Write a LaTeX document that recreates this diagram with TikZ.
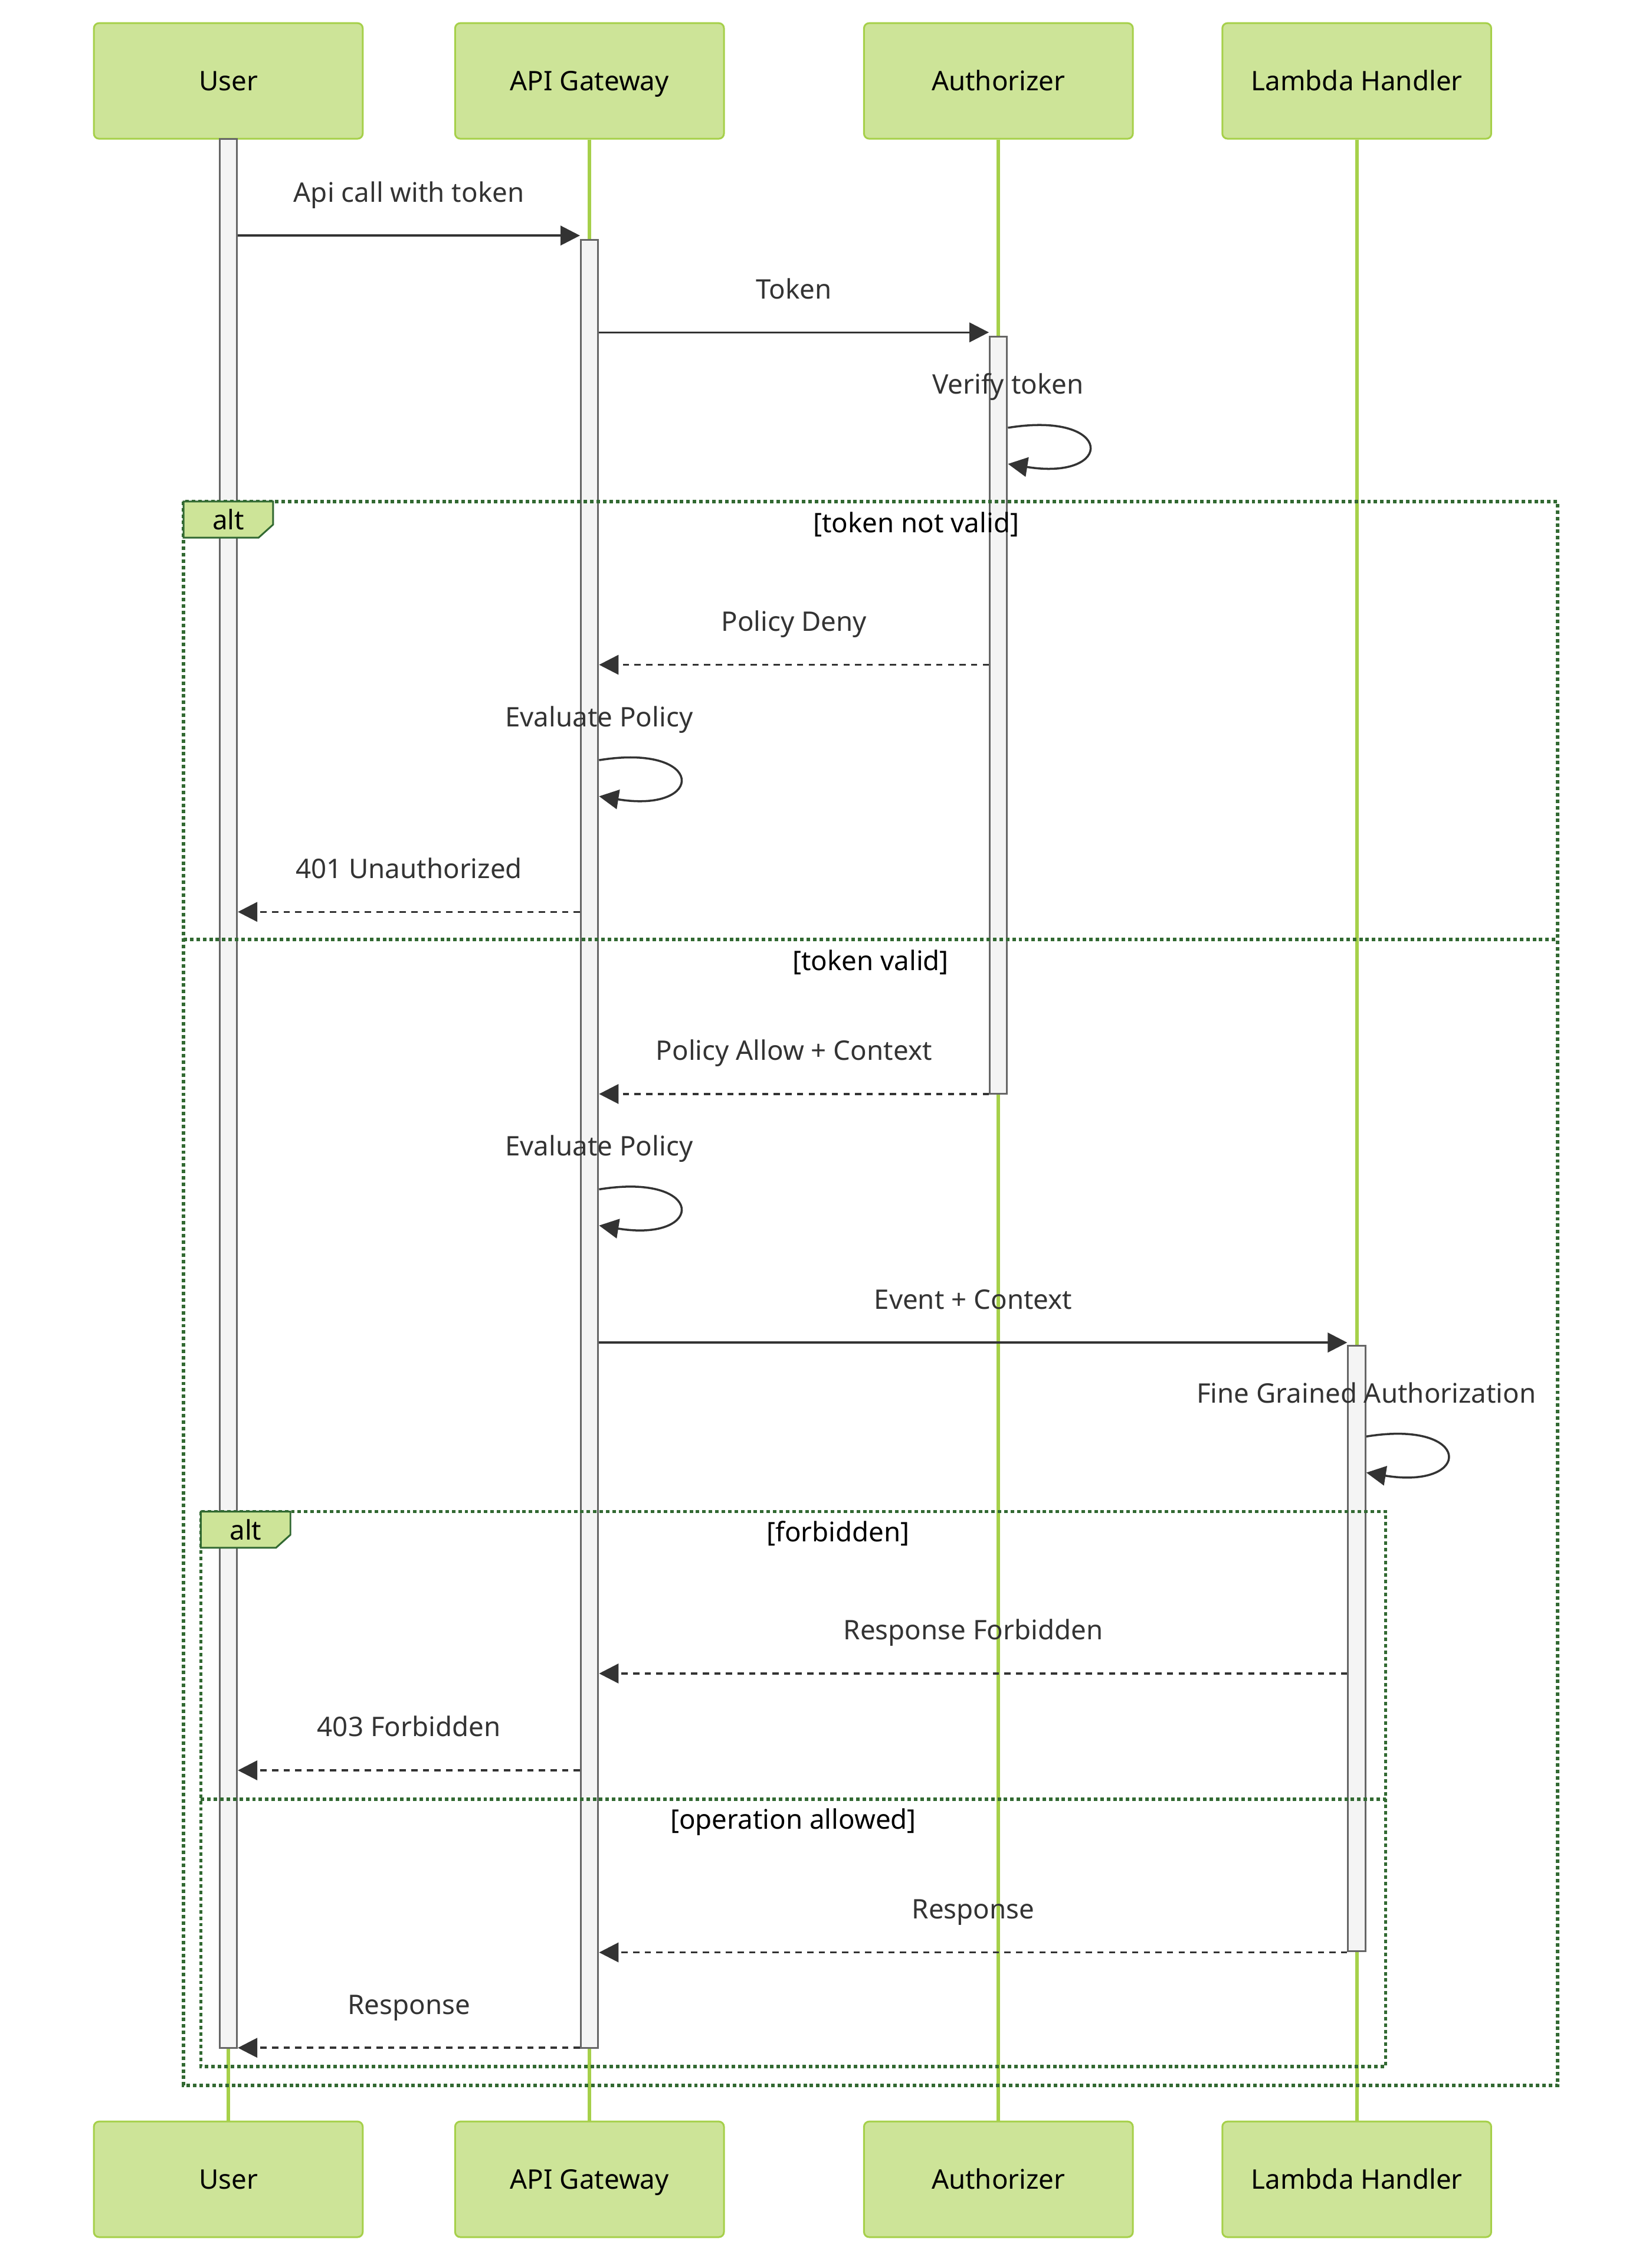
\documentclass[tikz,border=0pt]{standalone}
\usepackage{fontspec}
\setmainfont{Noto Sans}
\usetikzlibrary{arrows.meta,fit}
\definecolor{actfill}{HTML}{CDE498}
\definecolor{actline}{HTML}{A6D04A}
\definecolor{altline}{HTML}{326932}
\definecolor{barfill}{HTML}{F4F4F4}
\definecolor{barline}{HTML}{666666}
\definecolor{msgcol}{HTML}{333333}
\tikzset{
	txt/.style={font=\fontsize{13pt}{15pt}\selectfont,text height=0.93em,text depth=0pt},
	actor/.style={txt,draw=actline,line width=0.85pt,fill=actfill,rounded corners=2.5pt,
		minimum width=4.56cm,minimum height=1.96cm},
	life/.style={actline,line width=1.7pt},
	bar/.style={draw=barline,line width=0.85pt,fill=barfill,inner sep=0pt},
	call/.style={msgcol,line width=1pt,-{Triangle[length=0.33cm,width=0.33cm]}},
	reply/.style={call,dash pattern=on 3pt off 2.6pt},
	msgtext/.style={txt,text=msgcol,yshift=0.735cm},
	altbox/.style={altline,line width=1.6pt,dash pattern=on 1.7pt off 1.4pt},
	alttab/.style={draw=altline,line width=0.85pt,fill=actfill},
	alttext/.style={txt}
}
\newcommand{\selfcall}[3]{\draw[call] (#1.east |- #2) .. controls +(74,-12) and +(74,12) .. ++(0,25);
	\path (#1.east |- #2) node[msgtext] {#3}}

\begin{document}
\begin{tikzpicture}[x=0.0245cm,y=-0.0245cm]
	\path[fill=white,use as bounding box] (0,0) rectangle (1143,1568);
		\node[actor] (user) at (158,56) {User};
		\node[actor] (gw) at (408,56) {API Gateway};
		\node[actor] (auth) at (691,56) {Authorizer};
		\node[actor] (lam) at (939,56) {Lambda Handler};
		\node[actor] (userB) at (158,1508) {User};
		\node[actor] (gwB) at (408,1508) {API Gateway};
		\node[actor] (authB) at (691,1508) {Authorizer};
		\node[actor] (lamB) at (939,1508) {Lambda Handler};
			\draw[life] (user) -- (userB);
			\draw[life] (gw) -- (gwB);
			\draw[life] (auth) -- (authB);
			\draw[life] (lam) -- (lamB);
		\node[bar,fit={(152,96) (164,1417)}] (ubar) {};
		\node[bar,fit={(402,166) (414,1417)}] (gbar) {};
		\node[bar,fit={(685,233) (697,757)}] (abar) {};
		\node[bar,fit={(933,931) (945,1350)}] (lbar) {};
			\coordinate (r1) at (0,163);
			\coordinate (r2) at (0,230);
			\coordinate (r3) at (0,296);
			\coordinate (r4) at (0,460);
			\coordinate (r5) at (0,526);
			\coordinate (r6) at (0,631);
			\coordinate (r7) at (0,757);
			\coordinate (r8) at (0,823);
			\coordinate (r9) at (0,929);
			\coordinate (r10) at (0,994);
			\coordinate (r11) at (0,1158);
			\coordinate (r12) at (0,1225);
			\coordinate (r13) at (0,1351);
			\coordinate (r14) at (0,1417);
		\draw[call] (ubar.east |- r1) -- node[msgtext] {Api call with token} (gbar.west |- r1);
		\draw[call] (gbar.east |- r2) -- node[msgtext] {Token} (abar.west |- r2);
		\selfcall{abar}{r3}{Verify token};
		\draw[reply] (abar.west |- r4) -- node[msgtext] {Policy Deny} (gbar.east |- r4);
		\selfcall{gbar}{r5}{Evaluate Policy};
		\draw[reply] (gbar.west |- r6) -- node[msgtext] {401 Unauthorized} (ubar.east |- r6);
		\draw[reply] (abar.west |- r7) -- node[msgtext] {Policy Allow + Context} (gbar.east |- r7);
		\selfcall{gbar}{r8}{Evaluate Policy};
		\draw[call] (gbar.east |- r9) -- node[msgtext] {Event + Context} (lbar.west |- r9);
		\selfcall{lbar}{r10}{Fine Grained Authorization};
		\draw[reply] (lbar.west |- r11) -- node[msgtext] {Response Forbidden} (gbar.east |- r11);
		\draw[reply] (gbar.west |- r12) -- node[msgtext] {403 Forbidden} (ubar.east |- r12);
		\draw[reply] (lbar.west |- r13) -- node[msgtext] {Response} (gbar.east |- r13);
		\draw[reply] (gbar.west |- r14) -- node[msgtext] {Response} (ubar.east |- r14);
			\draw[altbox] (127,347) rectangle (1078,1443);
			\draw[altbox] (127,650) -- (1078,650);
			\filldraw[alttab] (127,347) -- (189,347) -- (189,363) -- (179,372) -- (127,372) -- cycle;
			\node[alttext] (alt1) at (158,360) {alt};
			\node[alttext] (c1) at (634,362) {[token not valid]};
			\node[alttext] (c2) at (602.5,665) {[token valid]};
			\draw[altbox] (139,1046) rectangle (959,1430);
			\draw[altbox] (139,1245) -- (959,1245);
			\filldraw[alttab] (139,1046) -- (201,1046) -- (201,1062) -- (191,1071) -- (139,1071) -- cycle;
			\node[alttext] (alt2) at (170,1059) {alt};
			\node[alttext] (c3) at (580,1060) {[forbidden]};
			\node[alttext] (c4) at (549,1259) {[operation allowed]};
\end{tikzpicture}
\end{document}
